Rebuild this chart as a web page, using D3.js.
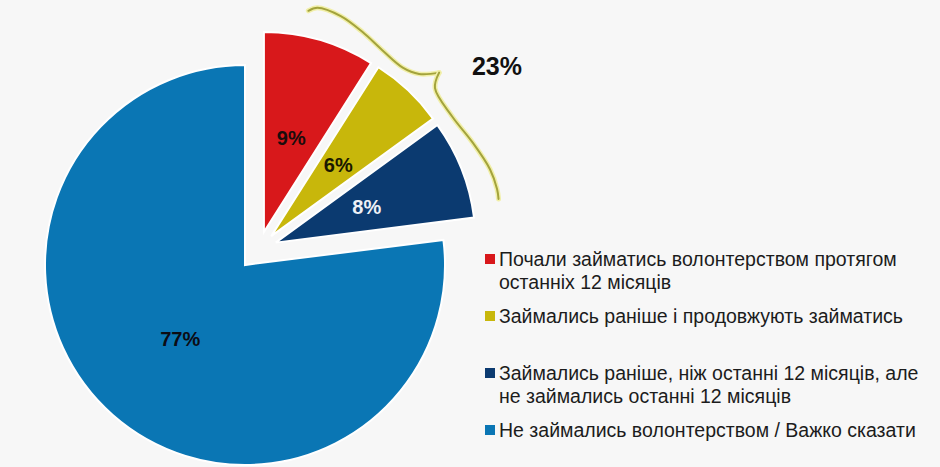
<!DOCTYPE html>
<html>
<head>
<meta charset="utf-8">
<script src="https://cdn.jsdelivr.net/npm/d3@7"></script>
<style>
  html, body { margin: 0; padding: 0; background: #f7f7f7; }
  svg { display: block; font-family: "Liberation Sans", Arial, sans-serif; }
</style>
</head>
<body>
<script>
// chart data
const categories = [
  ["Почали займатись волонтерством протягом", "останніх 12 місяців"],
  ["Займались раніше і продовжують займатись"],
  ["Займались раніше, ніж останні 12 місяців, але", "не займались останні 12 місяців"],
  ["Не займались волонтерством / Важко сказати"]
];
const values = [9, 6, 8, 77];
const sliceLabels = ["9%", "6%", "8%", "77%"];
const exploded = [true, true, true, false];
const groupLabel = "23%";

const colors = ["#d8181b", "#c8b70b", "#0b3a70", "#0a76b4"];
const labelColors = ["#1a0c0c", "#1a1800", "#eef0f6", "#0c0c14"];

var w = 940;
var h = 467;
var R = 200;
var cx = 245, cy = 265;

var svg = d3.select("body").append("svg")
  .attr("width", w)
  .attr("height", h);

var pie = d3.pie().sort(null).value(d => d);
var slices = pie(values);
var arc = d3.arc().innerRadius(0).outerRadius(R);

// the exploded group is pushed out along its middle, each slice a bit more
var groupSlices = slices.filter((s, i) => exploded[i]);
var groupMid = (groupSlices[0].startAngle + groupSlices[groupSlices.length - 1].endAngle) / 2;
var groupPush = 21, slicePush = 18;

function offset(s, i) {
  if (!exploded[i]) return [0, 0];
  var mid = (s.startAngle + s.endAngle) / 2;
  return [
    groupPush * Math.sin(groupMid) + slicePush * Math.sin(mid),
    -groupPush * Math.cos(groupMid) - slicePush * Math.cos(mid)
  ];
}

var pieG = svg.append("g").attr("transform", `translate(${cx},${cy})`);

var sliceG = pieG.selectAll("g.slice")
  .data(slices)
  .join("g")
  .attr("class", "slice")
  .attr("transform", (d, i) => `translate(${offset(d, i)})`);

sliceG.append("path")
  .attr("d", arc)
  .attr("fill", (d, i) => colors[i])
  .attr("stroke", "#ffffff")
  .attr("stroke-width", 2)
  .attr("stroke-linejoin", "miter");

var labelArc = d3.arc().innerRadius(R * 0.49).outerRadius(R * 0.49);
sliceG.append("text")
  .attr("transform", d => `translate(${labelArc.centroid(d)})`)
  .attr("text-anchor", "middle")
  .attr("dy", "0.36em")
  .attr("font-size", 20)
  .attr("font-weight", "bold")
  .attr("fill", (d, i) => labelColors[i])
  .text((d, i) => sliceLabels[i]);

// curly brace around the exploded group
var braceR = R * 1.31;
var a0 = 14 * Math.PI / 180, a1 = 75.4 * Math.PI / 180;
var p0 = [braceR * Math.sin(a0), -braceR * Math.cos(a0)];
var p1 = [braceR * Math.sin(a1), -braceR * Math.cos(a1)];
var L = Math.hypot(p1[0] - p0[0], p1[1] - p0[1]);
var u = [(p1[0] - p0[0]) / L, (p1[1] - p0[1]) / L];
var n = [u[1], -u[0]];
var midP = [(p0[0] + p1[0]) / 2, (p0[1] + p1[1]) / 2];
if (n[0] * midP[0] + n[1] * midP[1] < 0) n = [-n[0], -n[1]];
var k = R / 200;
var braceTop = [[0, 0], [0.016, 8.5], [0.1, 19], [0.2, 23], [0.3, 24], [0.4, 26], [0.46, 33], [0.51, 48]];
var braceBottom = [[0.51, 48], [0.54, 34], [0.66, 26], [0.78, 22], [0.9, 15], [0.97, 6], [1, 0]];
function toXY(q) {
  var t = q[0] * L, v = q[1] * k;
  return [p0[0] + u[0] * t + n[0] * v, p0[1] + u[1] * t + n[1] * v];
}
var braceLine = d3.line().curve(d3.curveCatmullRom.alpha(0.5));
[braceTop, braceBottom].forEach(part => {
  pieG.append("path")
    .attr("d", braceLine(part.map(toXY)))
    .attr("fill", "none")
    .attr("stroke", "#f1efa8")
    .attr("stroke-width", 5)
    .attr("stroke-linecap", "round");
  pieG.append("path")
    .attr("d", braceLine(part.map(toXY)))
    .attr("fill", "none")
    .attr("stroke", "#a3a33c")
    .attr("stroke-width", 2)
    .attr("stroke-linecap", "round");
});

svg.append("text")
  .attr("x", 497)
  .attr("y", 75)
  .attr("text-anchor", "middle")
  .attr("font-size", 25)
  .attr("font-weight", "bold")
  .attr("fill", "#111")
  .text(groupLabel);

// legend
var legend = svg.append("g").attr("transform", "translate(485,266)");
var entry = legend.selectAll("g.entry")
  .data(categories)
  .join("g")
  .attr("class", "entry")
  .attr("transform", (d, i) => `translate(0,${i * 57})`);

entry.append("rect")
  .attr("x", 0)
  .attr("y", -12)
  .attr("width", 10)
  .attr("height", 10)
  .attr("fill", (d, i) => colors[i]);

entry.append("text")
  .attr("x", 14)
  .attr("font-size", 19.5)
  .attr("fill", "#1c1c1c")
  .selectAll("tspan")
  .data(d => d)
  .join("tspan")
  .attr("x", 14)
  .attr("y", (d, j) => j * 23)
  .text(d => d);
</script>
</body>
</html>
